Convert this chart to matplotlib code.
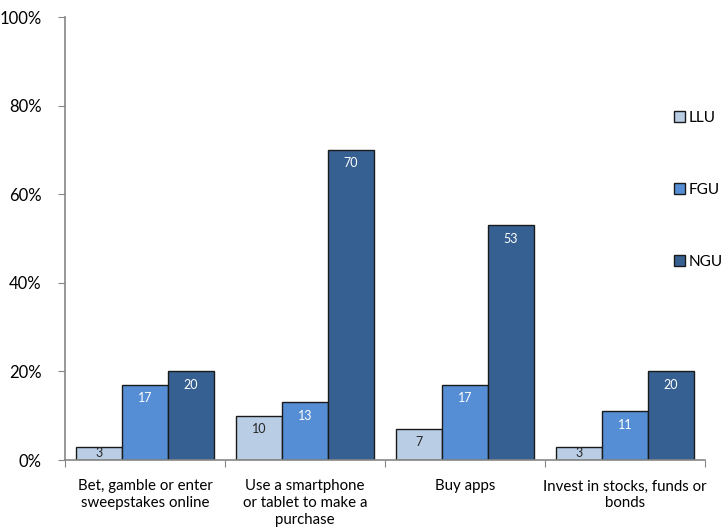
import matplotlib.pyplot as plt
import numpy as np

plt.rcParams['font.family'] = ['Lato', 'DejaVu Sans']

# data
categories = ["Bet, gamble or enter\nsweepstakes online",
              "Use a smartphone\nor tablet to make a\npurchase",
              "Buy apps",
              "Invest in stocks, funds or\nbonds"]
series = ["LLU", "FGU", "NGU"]
llu = [3, 10, 7, 3]
fgu = [17, 13, 17, 11]
ngu = [20, 70, 53, 20]
values = [llu, fgu, ngu]
colors = ["#B9CDE5", "#558ED5", "#376092"]
text_colors = ["#262626", "white", "white"]

fig = plt.figure(figsize=(7.25, 5.32), dpi=100)
ax = fig.add_axes([0.0897, 0.1353, 0.8827, 0.8327])

x = np.arange(len(categories))
w = 0.2875
for i, (name, vals) in enumerate(zip(series, values)):
    pos = x + (i - 1) * w
    bars = ax.bar(pos, vals, width=w, color=colors[i], edgecolor="#1a1a1a",
                  linewidth=1.0, label=name)
    for b, v in zip(bars, vals):
        y = v - 3 if v > 6 else v / 2
        ax.text(b.get_x() + w / 2, y, str(v), ha='center', va='center',
                fontsize=9, color=text_colors[i])

ax.set_xlim(-0.5, len(categories) - 0.5)
ax.set_ylim(0, 100)
ax.set_yticks(range(0, 101, 20))
ax.set_yticklabels([f"{t}%" for t in range(0, 101, 20)], fontsize=12)
ax.set_xticks(np.arange(len(categories) + 1) - 0.5)
ax.set_xticklabels([])
ax.set_xticks(x, minor=True)
ax.set_xticklabels(categories, minor=True, fontsize=10.8, linespacing=1.25)
ax.tick_params(axis='x', which='minor', length=0, pad=14)
ax.tick_params(axis='x', which='major', length=5, color="#868686")
ax.tick_params(axis='y', length=5, color="#868686", pad=12)

for s in ['top', 'right']:
    ax.spines[s].set_visible(False)
for s in ['left', 'bottom']:
    ax.spines[s].set_color("#868686")
    ax.spines[s].set_linewidth(1.2)

leg = ax.legend(loc='upper left', bbox_to_anchor=(0.921, 0.803),
                bbox_transform=fig.transFigure, frameon=False, fontsize=11,
                handlelength=0.75, handleheight=0.75, handletextpad=0.2,
                labelspacing=3.8, borderaxespad=0)

fig.savefig("out.png", dpi=100)
